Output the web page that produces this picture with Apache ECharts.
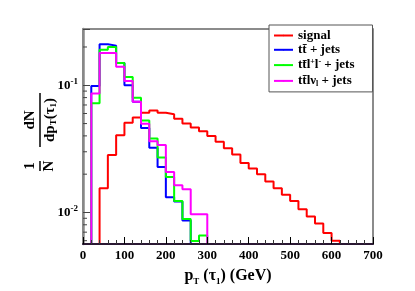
<!DOCTYPE html>
<html><head><meta charset="utf-8">
<script src="https://cdn.jsdelivr.net/npm/echarts@6/dist/echarts.min.js"></script>
<style>html,body{margin:0;padding:0;background:#fff}#c{width:415px;height:291px}</style>
</head><body><div id="c"></div>
<script>
// ---- data ----
const binLow = [0,20,40,60,80,100,120,140,160,180,200,220,240,260,280,300,320,340,360,380,400,420,440,460,480,500,520,540,560,580,600,620,640,660,680];
const seriesNames = ['signal', 'tt\u0304 + jets', 'tt\u0304ll + jets', 'tt\u0304l\u03bd + jets'];
const signal = [0,0,0.0155,0.0283,0.0405,0.0507,0.0558,0.0607,0.0633,0.0607,0.0593,0.0545,0.0500,0.0465,0.0435,0.0400,0.0360,0.0320,0.0285,0.0245,0.0222,0.0200,0.0175,0.0155,0.0138,0.0123,0.0106,0.0093,0.0082,0.0069,0.0060,0,0,0,0];
const ttjets = [0,0.0988,0.210,0.205,0.150,0.100,0.0743,0.0462,0.0323,0.0228,0.0132,0.0122,0.00863,0,0,0,0,0,0,0,0,0,0,0,0,0,0,0,0,0,0,0,0,0,0];
const ttll = [0,0.0722,0.190,0.200,0.150,0.116,0.0797,0.0528,0.0381,0.0270,0.0190,0.0123,0.00887,0.00596,0.00659,0,0,0,0,0,0,0,0,0,0,0,0,0,0,0,0,0,0,0,0];
const ttlv = [0,0.0862,0.179,0.179,0.140,0.108,0.0743,0.0499,0.0363,0.0339,0.0208,0.0164,0.0152,0.0097,0.0097,0,0,0,0,0,0,0,0,0,0,0,0,0,0,0,0,0,0,0,0];
const xTickLabels = ['0','100','200','300','400','500','600','700'];
const yMinorTicks = [0.006,0.007,0.008,0.009,0.02,0.03,0.04,0.05,0.06,0.07,0.08,0.09,0.2];
const Y_MIN = 0.00565, Y_MAX = 0.277, X_MAX = 700;

const SERIF = '"Liberation Serif", "DejaVu Serif", serif';
const colors = ['#ff0000', '#0000ff', '#00ff00', '#ff00ff'];
const allData = [signal, ttjets, ttll, ttlv];

function steps(vals) {
  const pts = binLow.map((x, i) => [x, vals[i] > Y_MIN ? vals[i] : Y_MIN]);
  pts.push([X_MAX, Y_MIN]);
  return pts;
}

const legendRich = {};
legendRich[seriesNames[0]] = '{a|signal}';
legendRich[seriesNames[1]] = '{a|tt\u0304 + jets}';
legendRich[seriesNames[2]] = '{a|tt\u0304l}{sup|+}{a|l}{sup|-}{a| + jets}';
legendRich[seriesNames[3]] = '{a|tt\u0304l\u03bd}{sub|l}{a| + jets}';

const chart = echarts.init(document.getElementById('c'), null, {renderer: 'canvas'});

const series = allData.map((d, i) => ({
  name: seriesNames[i],
  type: 'line',
  step: 'end',
  data: steps(d),
  symbol: 'none',
  showSymbol: false,
  lineStyle: {color: colors[i], width: 2},
  itemStyle: {color: colors[i]},
  z: 3 + i,
  animation: false
}));

series.push({
  type: 'custom',
  data: yMinorTicks.map(v => [0, v]),
  silent: true,
  z: 10,
  clip: false,
  animation: false,
  renderItem: function (params, api) {
    const p = api.coord([0, api.value(1)]);
    return {type: 'line', shape: {x1: p[0], y1: p[1], x2: p[0] + 4, y2: p[1]},
            style: {stroke: '#444', lineWidth: 1}};
  }
});

chart.setOption({
  animation: false,
  backgroundColor: '#fff',
  grid: {left: 83, right: 42, top: 29, bottom: 44, show: true, borderColor: '#666', borderWidth: 1.5},
  xAxis: {
    type: 'value', min: 0, max: X_MAX, interval: 100, z: 20,
    axisLine: {show: true, lineStyle: {color: '#2a1833', width: 2}},
    axisTick: {show: true, inside: true, length: 7, lineStyle: {color: '#000'}},
    minorTick: {show: true, splitNumber: 5, length: 4, lineStyle: {color: '#333'}},
    splitLine: {show: false},
    axisLabel: {
      margin: 5, color: '#000', fontFamily: SERIF, fontWeight: 'bold', fontSize: 13,
      formatter: v => xTickLabels[Math.round(v / 100)]
    },
    name: '{a|p}{sub|T}{a| (\u03c4}{sub|1}{a|) (GeV)}',
    nameLocation: 'middle', nameGap: 22,
    nameTextStyle: {
      rich: {
        a: {fontFamily: SERIF, fontWeight: 'bold', fontSize: 16, color: '#000', lineHeight: 20},
        sub: {fontFamily: SERIF, fontWeight: 'bold', fontSize: 9, color: '#000', verticalAlign: 'bottom', lineHeight: 20, padding: [8, 0, 0, 0]}
      }
    }
  },
  yAxis: {
    type: 'log', logBase: 10, min: Y_MIN, max: Y_MAX,
    axisLine: {show: true, lineStyle: {color: '#888', width: 2.5}},
    axisTick: {show: true, inside: true, length: 7, lineStyle: {color: '#444'}},
    splitLine: {show: false},
    axisLabel: {
      margin: 5, color: '#000',
      formatter: function (v) {
        const e = Math.log10(v);
        if (Math.abs(e - Math.round(e)) > 1e-6) return '';
        return '{b|10}{sup|' + Math.round(e) + '}';
      },
      rich: {
        b: {fontFamily: SERIF, fontWeight: 'bold', fontSize: 13, color: '#000', lineHeight: 16},
        sup: {fontFamily: SERIF, fontWeight: 'bold', fontSize: 9, color: '#000', verticalAlign: 'top', lineHeight: 16, padding: [0, 0, 8, 0]}
      }
    }
  },
  legend: {
    left: 269, top: 25, orient: 'vertical',
    itemWidth: 19, itemHeight: 2, itemGap: 1.3,
    padding: [4, 18, 4, 4],
    borderColor: '#555', borderWidth: 1, backgroundColor: '#fff',
    data: seriesNames,
    formatter: name => legendRich[name],
    textStyle: {
      rich: {
        a: {fontFamily: SERIF, fontWeight: 'bold', fontSize: 13, color: '#000', lineHeight: 14},
        sup: {fontFamily: SERIF, fontWeight: 'bold', fontSize: 8, color: '#000', lineHeight: 14, padding: [0, 0, 7, 0]},
        sub: {fontFamily: SERIF, fontWeight: 'bold', fontSize: 8, color: '#000', lineHeight: 14, padding: [6, 0, 0, 0]}
      }
    }
  },
  graphic: [{
    type: 'group', x: 40, y: 140, rotation: Math.PI / 2,
    children: [
      {type: 'text', x: -26, y: -2, style: {text: '1', font: 'bold 15px ' + SERIF, fill: '#000', align: 'center', verticalAlign: 'bottom'}},
      {type: 'line', shape: {x1: -31, y1: 0, x2: -21, y2: 0}, style: {stroke: '#000', lineWidth: 1.5}},
      {type: 'text', x: -26, y: 2, style: {text: 'N', font: 'bold 15px ' + SERIF, fill: '#000', align: 'center', verticalAlign: 'top'}},
      {type: 'text', x: 20, y: -2, style: {text: 'dN', font: 'bold 15px ' + SERIF, fill: '#000', align: 'center', verticalAlign: 'bottom'}},
      {type: 'line', shape: {x1: -7, y1: 0, x2: 47, y2: 0}, style: {stroke: '#000', lineWidth: 1.5}},
      {type: 'text', x: 20, y: 1, style: {
        text: '{a|dp}{s|T}{a|(\u03c4}{s|1}{a|)}', align: 'center', verticalAlign: 'top',
        rich: {
          a: {fontFamily: SERIF, fontWeight: 'bold', fontSize: 15, fill: '#000', lineHeight: 18},
          s: {fontFamily: SERIF, fontWeight: 'bold', fontSize: 9, fill: '#000', lineHeight: 18, padding: [8, 0, 0, 0]}
        }
      }}
    ]
  }],
  series: series
});
</script>
</body></html>
